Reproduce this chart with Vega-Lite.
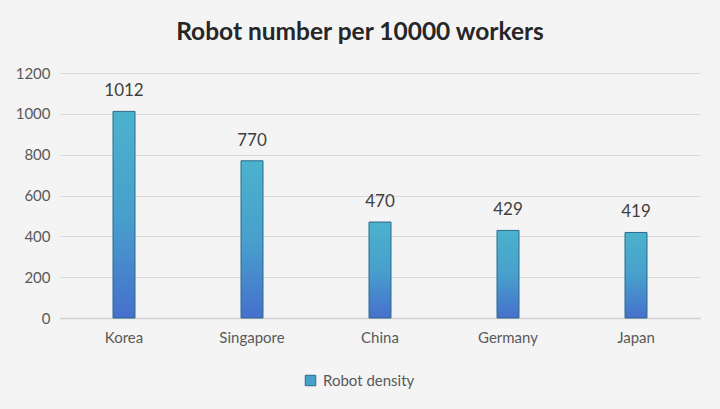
{
  "$schema": "https://vega.github.io/schema/vega-lite/v6.json",
  "width": 640,
  "height": 245,
  "autosize": "none",
  "padding": {"left": 60, "top": 73, "right": 20, "bottom": 91},
  "background": "#f4f4f4",
  "config": {"view": {"stroke": null}},
  "title": {
    "text": "Robot number per 10000 workers",
    "font": "Lato",
    "fontSize": 24.5,
    "fontWeight": "bold",
    "color": "#262626",
    "anchor": "middle",
    "dx": -20,
    "offset": 21
  },
  "data": {
    "values": [
      {"country": "Korea", "density": 1012, "series": "Robot density"},
      {"country": "Singapore", "density": 770, "series": "Robot density"},
      {"country": "China", "density": 470, "series": "Robot density"},
      {"country": "Germany", "density": 429, "series": "Robot density"},
      {"country": "Japan", "density": 419, "series": "Robot density"}
    ]
  },
  "encoding": {
    "x": {
      "field": "country",
      "type": "nominal",
      "sort": null,
      "scale": {"paddingInner": 0, "paddingOuter": 0},
      "axis": {
        "title": null,
        "labelAngle": 0,
        "labelFont": "Lato",
        "labelFontSize": 15,
        "labelColor": "#595959",
        "labelPadding": 12,
        "ticks": false,
        "domainColor": "#d0d0d0",
        "domainWidth": 1.5,
        "grid": false
      }
    },
    "y": {
      "field": "density",
      "type": "quantitative",
      "scale": {"domain": [0, 1200], "nice": false},
      "axis": {
        "title": null,
        "values": [0, 200, 400, 600, 800, 1000, 1200],
        "format": "d",
        "labelFont": "Lato",
        "labelFontSize": 15,
        "labelColor": "#595959",
        "labelPadding": 10,
        "ticks": false,
        "domain": false,
        "gridColor": "#d9d9d9",
        "gridWidth": 1.2
      }
    }
  },
  "layer": [
    {
      "mark": {"type": "bar", "width": 22, "opacity": 0},
      "encoding": {
        "color": {
          "field": "series",
          "type": "nominal",
          "scale": {"range": ["#47a0cc"]},
          "legend": {
            "title": null,
            "orient": "none",
            "legendX": 243,
            "legendY": 300,
            "symbolType": "square",
            "symbolSize": 110,
            "symbolOpacity": 1,
            "symbolStrokeColor": "#2b6a8e",
            "symbolStrokeWidth": 1,
            "labelFont": "Lato",
            "labelFontSize": 15,
            "labelColor": "#595959",
            "labelOffset": 5
          }
        }
      }
    },
    {
      "mark": {
        "type": "bar",
        "width": 22,
        "stroke": "#2b6a8e",
        "strokeWidth": 1,
        "fill": {
          "gradient": "linear",
          "x1": 0, "y1": 0, "x2": 0, "y2": 1,
          "stops": [
            {"offset": 0, "color": "#4bb2cc"},
            {"offset": 0.5, "color": "#48a0cc"},
            {"offset": 1, "color": "#4670cc"}
          ]
        }
      }
    },
    {
      "mark": {"type": "text", "font": "Lato", "fontSize": 17, "color": "#404040", "baseline": "alphabetic", "dy": -15},
      "encoding": {
        "text": {"field": "density", "type": "quantitative"}
      }
    }
  ]
}
